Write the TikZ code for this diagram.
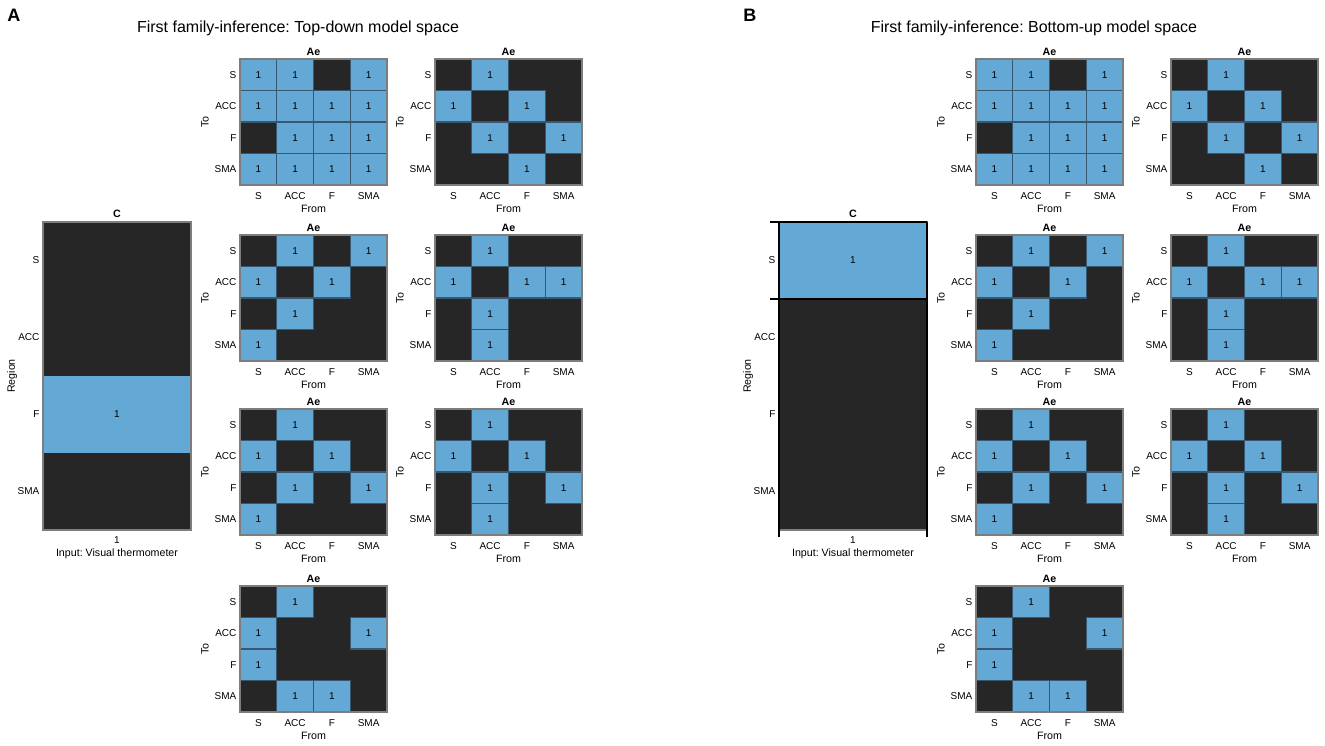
\documentclass[tikz,border=0pt]{standalone}
\usepackage{fontspec}
\setmainfont{Liberation Sans}
\frenchspacing

\definecolor{cellblue}{RGB}{100,168,214}
\definecolor{celldark}{RGB}{38,38,38}
\definecolor{celledge}{RGB}{55,88,112}
\definecolor{framegray}{RGB}{125,125,125}

\tikzset{
  ticklbl/.style={font=\fontsize{7.5}{9}\selectfont, inner sep=1pt},
  axlbl/.style={font=\fontsize{8}{10}\selectfont, inner sep=1pt},
  celllbl/.style={font=\fontsize{7.5}{9}\selectfont, inner sep=0pt},
  mattitle/.style={font=\bfseries\fontsize{8}{10}\selectfont, inner sep=1pt},
  bluecell/.style={fill=cellblue, draw=celledge, line width=0.8},
}

% one Ae matrix: #1 left, #2 top, #3 blue cells as row/col
\newcommand{\aemat}[3]{%
  \begin{scope}[shift={(#1,#2)}]
    \fill[celldark] (0,0) rectangle (147,126);
    \foreach \r/\c in {#3} {
      \draw[bluecell] ({(\c-1)*36.75},{(\r-1)*31.5}) rectangle ({\c*36.75},{\r*31.5});
      \node[celllbl] at ({\c*36.75-18.375},{\r*31.5-15.75}) {1};
    }
    \draw[framegray, line width=0.8] (0,0) rectangle (147,126);
    \node[mattitle] at (73.5,-7) {Ae};
    \foreach \lab [count=\i] in {S,ACC,F,SMA} {
      \node[ticklbl, anchor=east] at (-2,{\i*31.5-15.75}) {\lab};
      \node[ticklbl] at ({\i*36.75-18.375},137) {\lab};
    }
    \node[axlbl, rotate=90] at (-35,63) {To};
    \node[axlbl] at (73.5,150) {From};
  \end{scope}
}

\begin{document}
\begin{tikzpicture}[x=0.75pt, y=-0.75pt]
  \useasboundingbox[fill=white] (0,0) rectangle (1325,746);

  \foreach \dx/\model/\crow in {0/Top-down/3, 736/Bottom-up/1} {
    \node[font=\bfseries\fontsize{13.5}{16}\selectfont, anchor=west, inner sep=0pt] (panel\crow) at (7+\dx,15) {\ifnum\crow=3 A\else B\fi};
    \node[font=\fontsize{12}{14}\selectfont, inner sep=0pt] (title\crow) at (298+\dx,28) {First family-inference: \model{} model space};

    % input matrix C
    \begin{scope}[shift={(43+\dx,222)}]
      \fill[celldark] (0,0) rectangle (148,308);
      \fill[cellblue] (0,{(\crow-1)*77}) rectangle (148,{\crow*77});
      \node[celllbl] (cone\crow) at (74,{\crow*77-38.5}) {1};
      \draw[framegray, line width=0.8] (0,0) rectangle (148,308);
      \node[mattitle] (ctitle\crow) at (74,-8) {C};
      \foreach \lab [count=\i] in {S,ACC,F,SMA}
        \node[ticklbl, anchor=east] at (-2,{\i*77-38.5}) {\lab};
      \node[axlbl, rotate=90] (region\crow) at (-31,154) {Region};
      \node[ticklbl] (ctick\crow) at (74,318) {1};
      \node[axlbl] (input\crow) at (74,332) {Input: Visual thermometer};
    \end{scope}

    \aemat{240+\dx}{59}{1/1,1/2,1/4,2/1,2/2,2/3,2/4,3/2,3/3,3/4,4/1,4/2,4/3,4/4}
    \aemat{435+\dx}{59}{1/2,2/1,2/3,3/2,3/4,4/3}
    \aemat{240+\dx}{235}{1/2,1/4,2/1,2/3,3/2,4/1}
    \aemat{435+\dx}{235}{1/2,2/1,2/3,2/4,3/2,4/2}
    \aemat{240+\dx}{409}{1/2,2/1,2/3,3/2,3/4,4/1}
    \aemat{435+\dx}{409}{1/2,2/1,2/3,3/2,3/4,4/2}
    \aemat{240+\dx}{586}{1/2,2/1,2/4,3/1,4/2,4/3}
  }

  % axis frame and ticks of the bottom-up input matrix
  \draw[black, line width=1.6] (779,222) -- (779,530);
  \draw[black, line width=1.6] (927,222) -- (927,530);
  \draw[black, line width=1.2] (779,222) -- (927,222);
  \draw[black, line width=1.2] (770,222) -- (779,222);
  \draw[black, line width=1.2] (770,299) -- (927,299);
  \draw[black, line width=1.2] (779,530) -- (779,537);
  \draw[black, line width=1.2] (927,530) -- (927,537);
\end{tikzpicture}
\end{document}
